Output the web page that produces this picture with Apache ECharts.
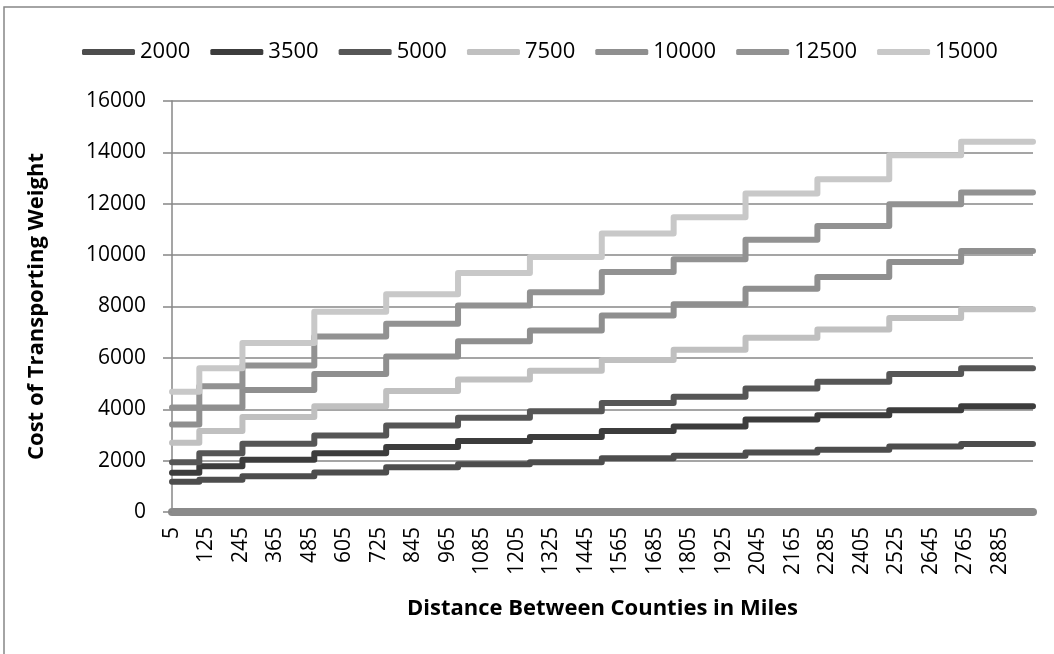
<!DOCTYPE html>
<html>
<head>
<meta charset="utf-8">
<script src="https://cdn.jsdelivr.net/npm/echarts@6/dist/echarts.min.js"></script>
<style>
  html, body { margin: 0; background: #fff; }
  #chart { width: 1054px; height: 654px; }
</style>
</head>
<body>
<div id="chart"></div>
<script>
// 运费阶梯：每条线为一个重量档，费用在距离分段处跳升
const distBreaks = [5, 100, 250, 500, 750, 1000, 1250, 1500, 1750, 2000, 2250, 2500, 2750, 3000];
const xTickLabels = [5, 125, 245, 365, 485, 605, 725, 845, 965, 1085, 1205, 1325, 1445,
  1565, 1685, 1805, 1925, 2045, 2165, 2285, 2405, 2525, 2645, 2765, 2885];
const weights = ['2000', '3500', '5000', '7500', '10000', '12500', '15000'];

// 每段的费用（13 段，最后一段延伸到 3000）
const cost2000  = [1180, 1260, 1390, 1540, 1740, 1860, 1940, 2090, 2190, 2320, 2420, 2550, 2650];
const cost3500  = [1530, 1780, 2030, 2290, 2530, 2760, 2915, 3150, 3330, 3600, 3765, 3960, 4120];
const cost5000  = [1940, 2290, 2655, 2980, 3370, 3670, 3920, 4245, 4485, 4810, 5070, 5370, 5595];
const cost7500  = [2695, 3150, 3700, 4120, 4710, 5160, 5500, 5920, 6320, 6780, 7100, 7555, 7890];
const cost10000 = [3410, 4065, 4745, 5375, 6050, 6650, 7065, 7650, 8090, 8690, 9145, 9730, 10160];
const cost12500 = [4065, 4900, 5700, 6830, 7330, 8040, 8550, 9345, 9840, 10600, 11135, 11980, 12435];
const cost15000 = [4680, 5595, 6575, 7800, 8480, 9305, 9930, 10845, 11470, 12395, 12955, 13890, 14410];

const costs = [cost2000, cost3500, cost5000, cost7500, cost10000, cost12500, cost15000];
const colors = ['#4d4d4d', '#3c3c3c', '#565656', '#c0c0c0', '#8f8f8f', '#929292', '#c8c8c8'];

const FONT = '"Open Sans", "Liberation Sans", sans-serif';
const GRID_COLOR = '#878787';

const chart = echarts.init(document.getElementById('chart'), null, { renderer: 'canvas' });

chart.setOption({
  backgroundColor: '#fff',
  animation: false,
  color: colors,
  graphic: [{
    type: 'rect', silent: true,
    shape: { x: 4, y: 7, width: 1200, height: 1000 },
    style: { fill: 'none', stroke: GRID_COLOR, lineWidth: 1.5 },
  }],
  legend: {
    left: 77, top: 34,
    itemWidth: 53, itemHeight: 6, itemGap: 20,
    icon: 'roundRect',
    textStyle: { fontFamily: FONT, fontSize: 22, color: '#000', lineHeight: 26 },
    data: weights,
  },
  grid: { left: 172, right: 21, top: 101, bottom: 142 },
  xAxis: {
    type: 'value', min: 5, max: 3000,
    offset: 3,
    name: 'Distance Between Counties in Miles',
    nameLocation: 'middle', nameGap: 83,
    nameTextStyle: { fontFamily: FONT, fontSize: 22, fontWeight: 'bold', color: '#000' },
    axisLine: { show: true, lineStyle: { color: '#8a8a8a', width: 8 } },
    axisTick: { show: false },
    splitLine: { show: false },
    axisLabel: {
      customValues: xTickLabels,
      rotate: 90, margin: 12,
      fontFamily: FONT, fontSize: 21, color: '#000',
      formatter: v => String(v),
    },
  },
  yAxis: {
    type: 'value', min: 0, max: 16000, interval: 2000,
    name: 'Cost of Transporting Weight',
    nameLocation: 'middle', nameGap: 124, nameRotate: 90,
    nameTextStyle: { fontFamily: FONT, fontSize: 22, fontWeight: 'bold', color: '#000' },
    axisLine: { show: true, lineStyle: { color: GRID_COLOR, width: 1.5 } },
    axisTick: { show: true, inside: false, length: 9, lineStyle: { color: GRID_COLOR, width: 1.5 } },
    splitLine: { show: true, lineStyle: { color: GRID_COLOR, width: 1.5 } },
    axisLabel: { margin: 26, fontFamily: FONT, fontSize: 21, color: '#000', formatter: v => String(v) },
  },
  series: weights.map((w, k) => ({
    name: w,
    type: 'line',
    step: 'end',
    showSymbol: false,
    lineStyle: { width: 6, cap: 'round', join: 'round' },
    data: distBreaks.map((d, i) => [d, costs[k][Math.min(i, costs[k].length - 1)]]),
  })),
});
</script>
</body>
</html>
